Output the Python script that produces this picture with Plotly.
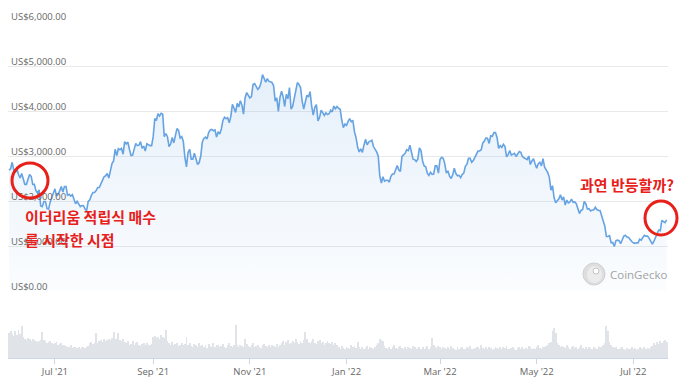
import pandas as pd
import plotly.graph_objects as go

# ---------------- data ----------------
# ETH price (USD), one value per day starting 2021-06-02
price_2021_06 = [2690, 2710, 2860, 2690, 2630, 2710, 2590, 2510, 2610, 2470, 2370, 2370, 2510, 2590, 2550,
                 2370, 2370, 2230, 2180, 2250, 1890, 1875, 1990, 1990, 1830, 1820, 1980, 2080, 2170, 2270]
price_2021_07 = [2110, 2150, 2225, 2320, 2200, 2320, 2320, 2120, 2150, 2110, 2140, 2030, 1940, 1995, 1915,
                 1875, 1900, 1895, 1820, 1787, 1990, 2025, 2125, 2190, 2190, 2230, 2300, 2300, 2380, 2460, 2540]
price_2021_08 = [2560, 2610, 2510, 2720, 2830, 2890, 3150, 3010, 3160, 3140, 3170, 3040, 3320, 3270, 3310,
                 3150, 3010, 3020, 3180, 3280, 3230, 3240, 3320, 3170, 3220, 3110, 3270, 3240, 3230, 3230, 3430]
price_2021_09 = [3830, 3790, 3940, 3890, 3950, 3930, 3430, 3500, 3430, 3210, 3270, 3410, 3290, 3430, 3610,
                 3570, 3400, 3430, 3330, 2970, 2760, 3080, 3150, 2930, 2930, 3060, 2930, 2810, 2850, 3000]
price_2021_10 = [3310, 3390, 3420, 3380, 3520, 3580, 3590, 3560, 3580, 3420, 3540, 3490, 3600, 3790, 3860,
                 3830, 3850, 3740, 3880, 4150, 4060, 3970, 4170, 4090, 4230, 4130, 3930, 4290, 4410, 4330, 4290]
price_2021_11 = [4320, 4590, 4610, 4530, 4480, 4520, 4620, 4810, 4730, 4640, 4720, 4660, 4650, 4630, 4560,
                 4220, 4290, 3990, 4300, 4440, 4320, 4100, 4370, 4270, 4520, 4040, 4100, 4300, 4440, 4630]
price_2021_12 = [4590, 4520, 4220, 4040, 4200, 4350, 4310, 4430, 4110, 3910, 4080, 4140, 3780, 3860, 4020,
                 3960, 3900, 3960, 3920, 3940, 4020, 3980, 4110, 4050, 4100, 4060, 4040, 3800, 3630, 3710, 3680]
price_2022_01 = [3770, 3830, 3760, 3790, 3540, 3410, 3200, 3090, 3160, 3080, 3240, 3370, 3250, 3310, 3330,
                 3350, 3210, 3160, 3090, 3000, 2560, 2400, 2540, 2440, 2460, 2460, 2420, 2550, 2600, 2600, 2690]
price_2022_02 = [2790, 2690, 2660, 2990, 3020, 3060, 3140, 3120, 3240, 3080, 2930, 2920, 2880, 2930, 3180,
                 3120, 2890, 2780, 2760, 2620, 2570, 2640, 2590, 2600, 2780, 2780, 2620, 2920]
price_2022_03 = [2970, 2950, 2830, 2620, 2670, 2550, 2500, 2580, 2730, 2610, 2560, 2570, 2520, 2590, 2620,
                 2770, 2820, 2950, 2950, 2860, 2900, 2970, 3030, 3110, 3110, 3140, 3290, 3330, 3400, 3390, 3280]
price_2022_04 = [3450, 3440, 3520, 3520, 3410, 3170, 3230, 3190, 3260, 3210, 2980, 3030, 3120, 3020, 3040,
                 3060, 2990, 3060, 3100, 3080, 2990, 2960, 2930, 2920, 3000, 2810, 2890, 2940, 2820, 2730]
price_2022_05 = [2830, 2860, 2780, 2940, 2750, 2690, 2630, 2520, 2240, 2340, 2070, 1960, 2010, 2050, 2140,
                 2020, 2090, 1910, 2020, 1960, 1980, 2040, 1970, 1980, 1940, 1800, 1720, 1790, 1810, 1990, 1940]
price_2022_06 = [1820, 1830, 1780, 1800, 1800, 1860, 1810, 1790, 1790, 1660, 1530, 1440, 1210, 1210, 1230,
                 1070, 1080, 990, 1120, 1130, 1120, 1050, 1140, 1220, 1240, 1200, 1190, 1140, 1100, 1070]
price_2022_07 = [1060, 1070, 1070, 1150, 1130, 1190, 1240, 1220, 1220, 1170, 1100, 1040, 1110, 1190, 1230,
                 1350, 1340, 1570, 1540, 1520, 1580]

# 24h volume (billion USD), same days (chart dates 2021-06-02 .. 2022-07-22)
vol_2021_06 = [38, 40, 36, 33, 40, 35, 42, 36, 48, 31, 28, 27, 30, 29, 26, 28, 27, 25, 24, 26, 27, 39, 27, 25,
               22, 24, 26, 23, 21]
vol_2021_07 = [22, 24, 20, 21, 23, 19, 20, 18, 17, 16, 19, 15, 16, 17, 15, 16, 14, 16, 17, 15, 16, 18, 22, 24,
               21, 23, 37, 22, 25, 27, 24]
vol_2021_08 = [28, 26, 27, 29, 27, 30, 39, 28, 29, 38, 27, 26, 28, 24, 22, 26, 20, 21, 25, 19, 22, 24, 20, 18,
               21, 23, 19, 22, 20, 19, 21]
vol_2021_09 = [31, 33, 30, 32, 29, 34, 31, 30, 42, 25, 22, 20, 24, 19, 21, 23, 18, 20, 22, 19, 21, 31, 20, 22,
               18, 17, 21, 19, 16, 23]
vol_2021_10 = [18, 20, 17, 19, 15, 21, 18, 16, 22, 17, 19, 20, 16, 18, 21, 17, 15, 19, 22, 18, 16, 20, 50, 19,
               17, 20, 18, 16, 29, 21, 18]
vol_2021_11 = [17, 19, 22, 16, 18, 20, 17, 15, 19, 21, 18, 16, 20, 17, 19, 18, 16, 21, 17, 19, 22, 25, 20, 24,
               27, 21, 23, 26, 22, 28]
vol_2021_12 = [24, 21, 25, 23, 27, 39, 29, 24, 22, 26, 28, 23, 21, 25, 27, 22, 24, 20, 23, 26, 22, 21, 24, 19,
               22, 20, 16, 14, 18, 15, 13]
vol_2022_01 = [17, 15, 14, 19, 16, 18, 15, 24, 17, 14, 16, 13, 15, 18, 14, 16, 15, 13, 17, 19, 22, 28, 27, 26,
               18, 15, 14, 17, 13, 16, 19]
vol_2022_02 = [15, 14, 16, 18, 15, 13, 17, 14, 16, 15, 13, 18, 16, 14, 15, 17, 13, 16, 14, 15, 18, 14, 16, 30,
               20, 17, 15, 18]
vol_2022_03 = [16, 14, 17, 15, 13, 16, 14, 18, 15, 13, 12, 16, 14, 15, 17, 13, 14, 16, 15, 18, 14, 13, 15, 17,
               16, 14, 19, 15, 13, 16, 14]
vol_2022_04 = [17, 15, 12, 14, 16, 15, 13, 17, 14, 16, 15, 18, 14, 13, 15, 16, 14, 12, 15, 17, 14, 16, 13, 15,
               14, 18, 16, 13, 15, 14]
vol_2022_05 = [16, 19, 15, 14, 17, 16, 18, 20, 22, 24, 41, 45, 38, 22, 19, 17, 18, 16, 15, 19, 17, 14, 16, 18,
               15, 17, 14, 16, 19, 15, 14]
vol_2022_06 = [16, 14, 17, 15, 13, 16, 15, 14, 18, 16, 17, 19, 22, 48, 40, 24, 20, 17, 15, 16, 14, 13, 15, 16,
               14, 12, 15, 13, 14, 16]
vol_2022_07 = [13, 15, 12, 14, 16, 15, 13, 17, 14, 15, 13, 16, 18, 22, 20, 24, 21, 25, 23, 26, 27, 24]

tick_dates = ["2021-07-01", "2021-09-01", "2021-11-01", "2022-01-01", "2022-03-01", "2022-05-01", "2022-07-01"]
tick_labels = ["Jul '21", "Sep '21", "Nov '21", "Jan '22", "Mar '22", "May '22", "Jul '22"]
price_ticks = [0, 1000, 2000, 3000, 4000, 5000, 6000]
price_tick_labels = ["US$0.00", "US$1,000.00", "US$2,000.00", "US$3,000.00",
                     "US$4,000.00", "US$5,000.00", "US$6,000.00"]

note_left_1 = "이더리움 적립식 매수"
note_left_2 = "를 시작한 시점"
note_right = "과연 반등할까?"
watermark = "CoinGecko"

# ---------------- assemble ----------------
prices = (price_2021_06 + price_2021_07 + price_2021_08 + price_2021_09 + price_2021_10 + price_2021_11
          + price_2021_12 + price_2022_01 + price_2022_02 + price_2022_03 + price_2022_04 + price_2022_05
          + price_2022_06 + price_2022_07)
volumes = (vol_2021_06 + vol_2021_07 + vol_2021_08 + vol_2021_09 + vol_2021_10 + vol_2021_11 + vol_2021_12
           + vol_2022_01 + vol_2022_02 + vol_2022_03 + vol_2022_04 + vol_2022_05 + vol_2022_06 + vol_2022_07)
dates = pd.date_range("2021-06-02", periods=len(prices), freq="D")
vdates = pd.date_range("2021-06-02", periods=len(volumes), freq="D")

W, H = 680, 384
def fx(px):
    return px / W
def fy(py):
    return 1 - py / H

RED = "#e8201a"
LINE = "#66a3e2"

fig = go.Figure()
fig.add_trace(go.Scatter(
    x=dates, y=prices, mode="lines",
    line=dict(color=LINE, width=1.6),
    fill="tozeroy",
    fillgradient=dict(type="vertical",
                      colorscale=[[0, "rgba(106,165,226,0.03)"], [1, "rgba(106,165,226,0.17)"]]),
    hoverinfo="skip", xaxis="x", yaxis="y",
))
fig.add_trace(go.Bar(
    x=vdates, y=volumes, width=0.55 * 86400000,
    marker=dict(color="#e0e3e8", line=dict(width=0)),
    hoverinfo="skip", xaxis="x", yaxis="y2",
))

font_axis = dict(family="Open Sans, Liberation Sans, sans-serif", size=9.5, color="#666666")

fig.update_layout(
    width=W, height=H,
    margin=dict(l=0, r=0, t=0, b=0, autoexpand=False),
    paper_bgcolor="white", plot_bgcolor="white",
    showlegend=False,
    bargap=0,
    xaxis=dict(
        domain=[fx(8), fx(668)],
        range=["2021-06-01 09:00", "2022-07-22 21:00"],
        type="date", anchor="y2",
        tickvals=tick_dates, ticktext=tick_labels,
        ticks="outside", ticklen=5, tickcolor="#ccd6eb",
        showline=True, linecolor="#ccd6eb", linewidth=1,
        showgrid=False, zeroline=False,
        tickfont=font_axis, automargin=False,
    ),
    yaxis=dict(
        domain=[fy(291), fy(21)],
        range=[0, 6000],
        tickvals=price_ticks, ticktext=price_tick_labels,
        ticklabelposition="inside", ticklabelshift=-4, ticklabeloverflow="allow",
        showgrid=True, gridcolor="#e9e9e9", gridwidth=1,
        zeroline=False, showline=False, ticks="",
        tickfont=font_axis, automargin=False,
    ),
    yaxis2=dict(
        domain=[fy(358), fy(318)],
        range=[0, 60],
        visible=False, showgrid=False, zeroline=False,
    ),
)

shapes = [
    dict(type="circle", xref="paper", yref="paper",
         x0=fx(12), x1=fx(48), y0=fy(198), y1=fy(163),
         line=dict(color=RED, width=3), fillcolor="rgba(0,0,0,0)", layer="above"),
    dict(type="circle", xref="paper", yref="paper",
         x0=fx(645), x1=fx(677), y0=fy(235), y1=fy(201),
         line=dict(color=RED, width=3), fillcolor="rgba(0,0,0,0)", layer="above"),
    # CoinGecko logo
    dict(type="circle", xref="paper", yref="paper",
         x0=fx(583), x1=fx(605), y0=fy(285), y1=fy(263),
         line=dict(color="#d0d0d0", width=1), fillcolor="#dedede", layer="above"),
    dict(type="circle", xref="paper", yref="paper",
         x0=fx(587), x1=fx(602), y0=fy(283), y1=fy(266),
         line=dict(width=0), fillcolor="#ececec", layer="above"),
    dict(type="circle", xref="paper", yref="paper",
         x0=fx(593), x1=fx(599), y0=fy(274), y1=fy(268),
         line=dict(color="#c4c4c4", width=1), fillcolor="#ffffff", layer="above"),
]

kfont = dict(family="Noto Sans CJK KR, sans-serif", size=15, color=RED)
annotations = [
    dict(xref="paper", yref="paper", x=fx(23), y=fy(216), xanchor="left", yanchor="middle",
         text="<b>" + note_left_1 + "</b>", showarrow=False, font=kfont),
    dict(xref="paper", yref="paper", x=fx(23), y=fy(239), xanchor="left", yanchor="middle",
         text="<b>" + note_left_2 + "</b>", showarrow=False, font=kfont),
    dict(xref="paper", yref="paper", x=fx(578), y=fy(185), xanchor="left", yanchor="middle",
         text="<b>" + note_right + "</b>", showarrow=False, font=kfont),
    dict(xref="paper", yref="paper", x=fx(608), y=fy(274), xanchor="left", yanchor="middle",
         text=watermark, showarrow=False,
         font=dict(family="Open Sans, Liberation Sans, sans-serif", size=11.5, color="#a3a3a3")),
]
fig.update_layout(shapes=shapes, annotations=annotations)

fig.write_html("out.html", config={"displayModeBar": False},
               post_script="document.body.style.margin='0px';")
